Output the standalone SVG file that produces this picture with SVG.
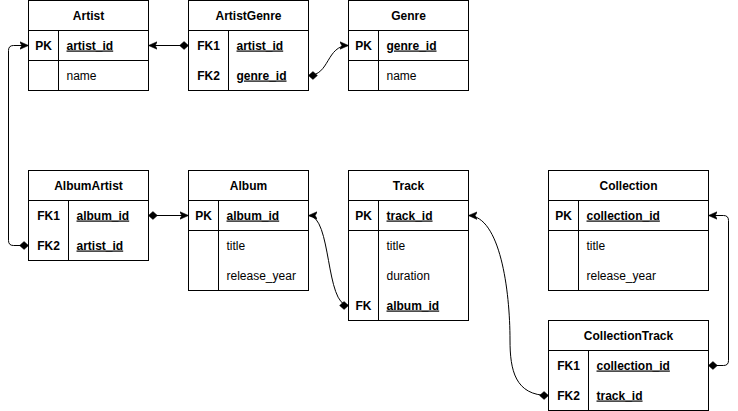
<svg xmlns="http://www.w3.org/2000/svg" width="738" height="411" viewBox="0 0 738 411">
<defs>
<style>
.box{fill:#fff;stroke:#000;stroke-width:1}
.ln{fill:none;stroke:#000;stroke-width:1}
text{font-family:"Liberation Sans",Arial,Helvetica,sans-serif;font-size:12px;fill:#000}
.hdr{font-weight:bold;text-anchor:middle}
.key{font-weight:bold;text-anchor:middle}
.pk{font-weight:bold;text-decoration:underline}
.edge{fill:none;stroke:#000;stroke-width:1;marker-start:url(#dia);marker-end:url(#arr)}
</style>
<marker id="dia" markerUnits="userSpaceOnUse" markerWidth="10" markerHeight="10" viewBox="0 -4 9 8" refX="0" refY="0" orient="auto">
<path d="M0,0 L4,-3.5 L8,0 L4,3.5 Z" fill="#000" stroke="#000" stroke-width="0.5"/>
</marker>
<marker id="arr" markerUnits="userSpaceOnUse" markerWidth="10" markerHeight="10" viewBox="0 -4 9 8" refX="8" refY="0" orient="auto">
<path d="M0,-3.5 L8,0 L0,3.5 L2,0 Z" fill="#000" stroke="#000" stroke-width="0.5"/>
</marker>
</defs>

<g id="connectors">
<path class="edge" d="M188.5,45.5 L148.5,45.5"/>
<path class="edge" d="M308.5,75.5 C330,75.5 326,45.5 348.5,45.5"/>
<path class="edge" d="M28.5,245.5 L13.5,245.5 Q8.5,245.5 8.5,240.5 L8.5,50.5 Q8.5,45.5 13.5,45.5 L28.5,45.5"/>
<path class="edge" d="M148.5,215.5 L188.5,215.5"/>
<path class="edge" d="M348.5,305.5 C325,305.5 332,215.5 308.5,215.5"/>
<path class="edge" d="M548.5,395.5 C515,395.5 510,370 510,340 C510,290 500,216 468.5,215.5"/>
<path class="edge" d="M708.5,365.5 L723.5,365.5 Q728.5,365.5 728.5,360.5 L728.5,220.5 Q728.5,215.5 723.5,215.5 L708.5,215.5"/>
</g>

<g id="Artist">
<rect class="box" x="28.5" y="0.5" width="120" height="90"/>
<path class="ln" d="M28.5,30.5 H148.5 M28.5,60.5 H148.5 M58.5,30.5 V90.5"/>
<text class="hdr" x="88.5" y="19.5">Artist</text>
<text class="key" x="43.5" y="49.5">PK</text>
<text class="pk" x="66.5" y="49.5">artist_id</text>
<text x="66.5" y="79.5">name</text>
</g>

<g id="ArtistGenre">
<rect class="box" x="188.5" y="0.5" width="120" height="90"/>
<path class="ln" d="M188.5,30.5 H308.5 M228.5,30.5 V90.5"/>
<text class="hdr" x="248.5" y="19.5">ArtistGenre</text>
<text class="key" x="208.5" y="49.5">FK1</text>
<text class="pk" x="236.5" y="49.5">artist_id</text>
<text class="key" x="208.5" y="79.5">FK2</text>
<text class="pk" x="236.5" y="79.5">genre_id</text>
</g>

<g id="Genre">
<rect class="box" x="348.5" y="0.5" width="120" height="90"/>
<path class="ln" d="M348.5,30.5 H468.5 M348.5,60.5 H468.5 M378.5,30.5 V90.5"/>
<text class="hdr" x="408.5" y="19.5">Genre</text>
<text class="key" x="363.5" y="49.5">PK</text>
<text class="pk" x="386.5" y="49.5">genre_id</text>
<text x="386.5" y="79.5">name</text>
</g>

<g id="AlbumArtist">
<rect class="box" x="28.5" y="170.5" width="120" height="90"/>
<path class="ln" d="M28.5,200.5 H148.5 M68.5,200.5 V260.5"/>
<text class="hdr" x="88.5" y="189.5">AlbumArtist</text>
<text class="key" x="48.5" y="219.5">FK1</text>
<text class="pk" x="76.5" y="219.5">album_id</text>
<text class="key" x="48.5" y="249.5">FK2</text>
<text class="pk" x="76.5" y="249.5">artist_id</text>
</g>

<g id="Album">
<rect class="box" x="188.5" y="170.5" width="120" height="120"/>
<path class="ln" d="M188.5,200.5 H308.5 M188.5,230.5 H308.5 M218.5,200.5 V290.5"/>
<text class="hdr" x="248.5" y="189.5">Album</text>
<text class="key" x="203.5" y="219.5">PK</text>
<text class="pk" x="226.5" y="219.5">album_id</text>
<text x="226.5" y="249.5">title</text>
<text x="226.5" y="279.5">release_year</text>
</g>

<g id="Track">
<rect class="box" x="348.5" y="170.5" width="120" height="150"/>
<path class="ln" d="M348.5,200.5 H468.5 M348.5,230.5 H468.5 M378.5,200.5 V320.5"/>
<text class="hdr" x="408.5" y="189.5">Track</text>
<text class="key" x="363.5" y="219.5">PK</text>
<text class="pk" x="386.5" y="219.5">track_id</text>
<text x="386.5" y="249.5">title</text>
<text x="386.5" y="279.5">duration</text>
<text class="key" x="363.5" y="309.5">FK</text>
<text class="pk" x="386.5" y="309.5">album_id</text>
</g>

<g id="Collection">
<rect class="box" x="548.5" y="170.5" width="160" height="120"/>
<path class="ln" d="M548.5,200.5 H708.5 M548.5,230.5 H708.5 M578.5,200.5 V290.5"/>
<text class="hdr" x="628.5" y="189.5">Collection</text>
<text class="key" x="563.5" y="219.5">PK</text>
<text class="pk" x="586.5" y="219.5">collection_id</text>
<text x="586.5" y="249.5">title</text>
<text x="586.5" y="279.5">release_year</text>
</g>

<g id="CollectionTrack">
<rect class="box" x="548.5" y="320.5" width="160" height="90"/>
<path class="ln" d="M548.5,350.5 H708.5 M588.5,350.5 V410.5"/>
<text class="hdr" x="628.5" y="339.5">CollectionTrack</text>
<text class="key" x="568.5" y="369.5">FK1</text>
<text class="pk" x="596.5" y="369.5">collection_id</text>
<text class="key" x="568.5" y="399.5">FK2</text>
<text class="pk" x="596.5" y="399.5">track_id</text>
</g>
</svg>
